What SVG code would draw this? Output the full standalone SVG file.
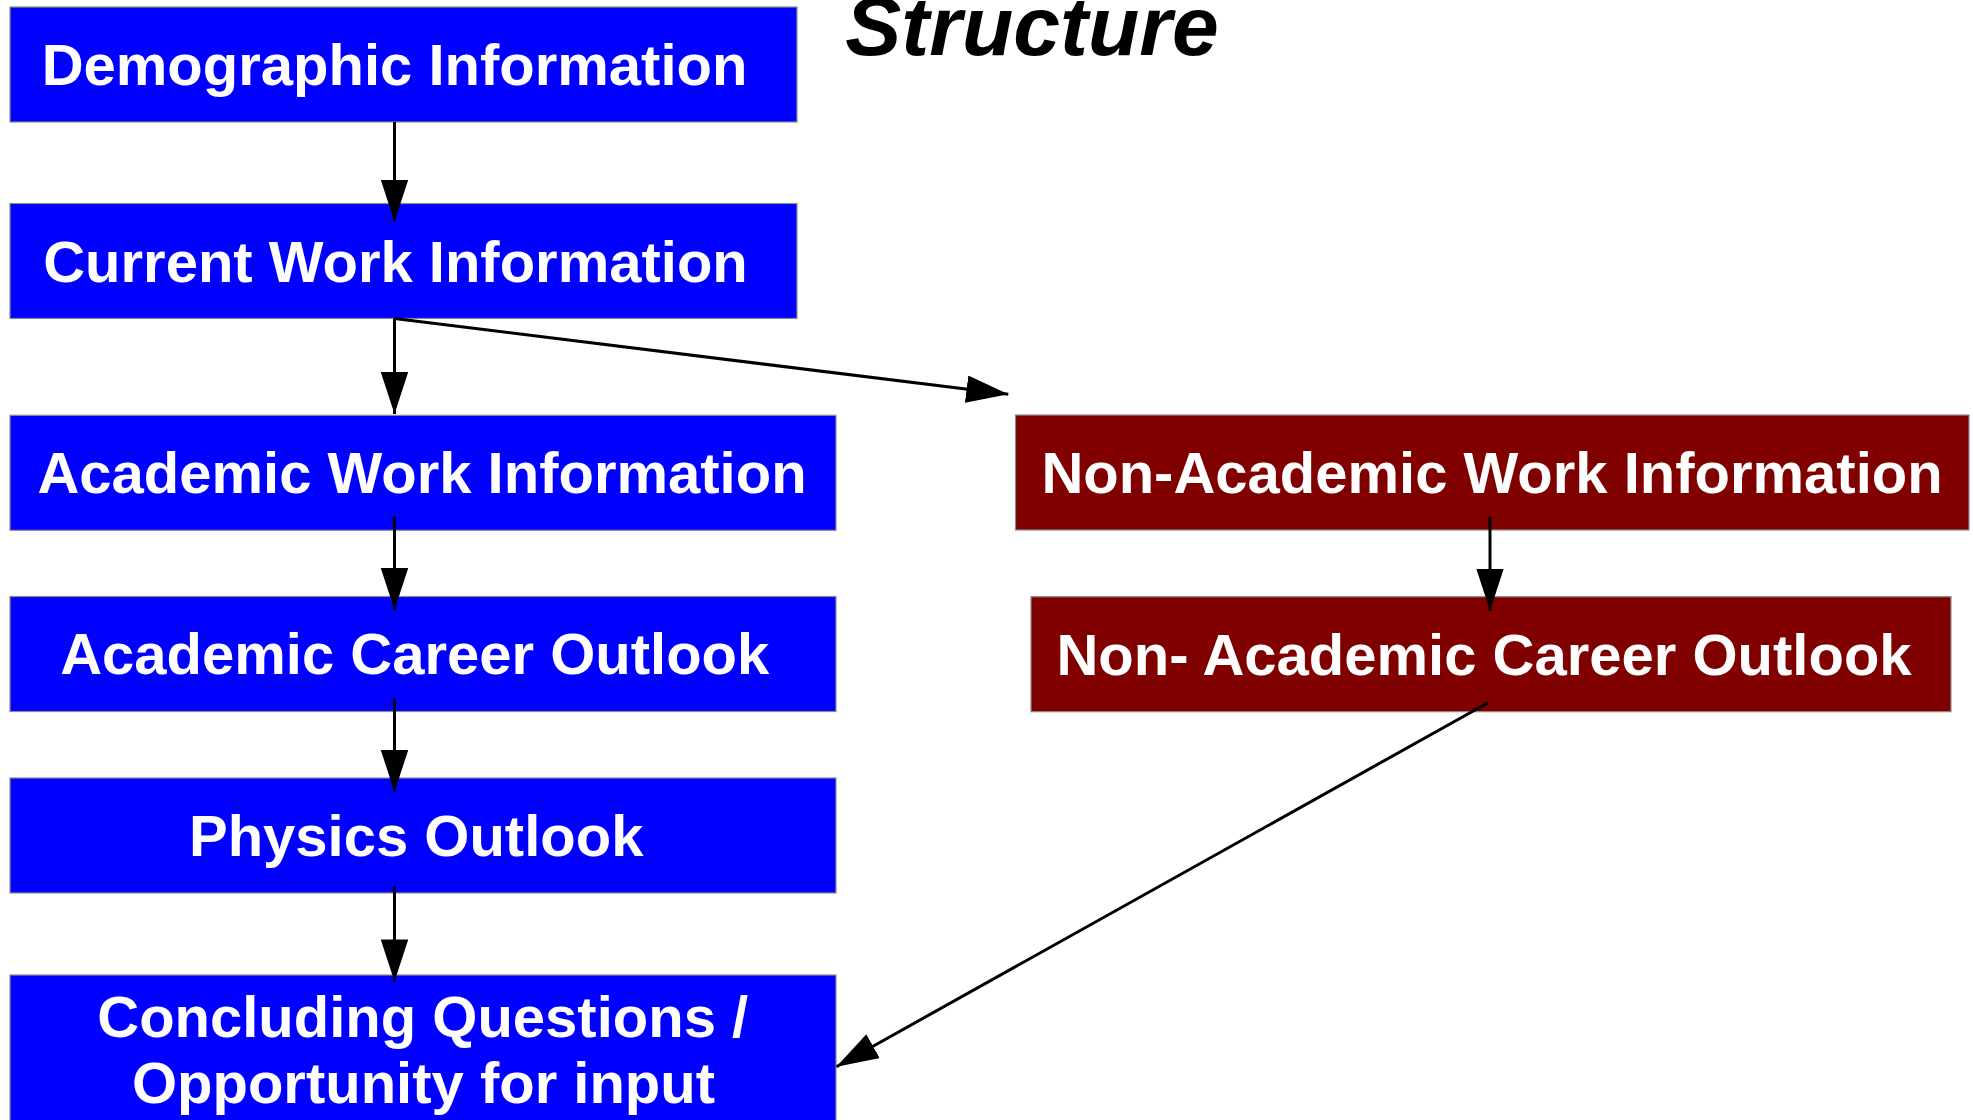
<svg xmlns="http://www.w3.org/2000/svg" width="1973" height="1120" viewBox="0 0 1973 1120">
<style>
.box{stroke:#8c8c8c;stroke-width:1.2}
.blue{fill:#0000ff}
.red{fill:#800000}
.lbl{font-family:"Liberation Sans",Arial,sans-serif;font-weight:bold;font-size:58px;fill:#ffffff;text-anchor:middle}
.title{font-family:"Liberation Sans",Arial,sans-serif;font-weight:bold;font-style:italic;font-size:84px;fill:#000000;text-anchor:middle}
.edge{stroke:#000000;stroke-width:3;fill:none;marker-end:url(#arr)}
</style>
<defs>
<marker id="arr" markerUnits="userSpaceOnUse" markerWidth="44" markerHeight="30" refX="42" refY="13.75" orient="auto" viewBox="0 0 44 30">
<path d="M0,0 L42,13.75 L0,27.5 z" fill="#000000"/>
</marker>
</defs>
<rect width="1973" height="1120" fill="#ffffff"/>
<text id="title" class="title" x="1032" y="55">Structure</text>
<g id="demographic"><rect class="box blue" x="10" y="7" width="787" height="115"/><text class="lbl" x="394.5" y="85">Demographic Information</text></g>
<g id="current-work"><rect class="box blue" x="10" y="203.5" width="787" height="115"/><text class="lbl" x="395.5" y="281.7">Current Work Information</text></g>
<g id="academic-work"><rect class="box blue" x="10" y="415.3" width="826" height="115"/><text class="lbl" x="422" y="493">Academic Work Information</text></g>
<g id="academic-career"><rect class="box blue" x="10" y="596.5" width="826" height="115"/><text class="lbl" x="414.7" y="674">Academic Career Outlook</text></g>
<g id="physics"><rect class="box blue" x="10" y="778" width="826" height="115"/><text class="lbl" x="416.2" y="855.7">Physics Outlook</text></g>
<g id="concluding"><rect class="box blue" x="10" y="975" width="826" height="160"/><text class="lbl" x="422.7" y="1036.8">Concluding Questions /</text><text class="lbl" x="423.5" y="1103">Opportunity for input</text></g>
<g id="non-academic-work"><rect class="box red" x="1015.5" y="415" width="953.5" height="115"/><text class="lbl" x="1492" y="493">Non-Academic Work Information</text></g>
<g id="non-academic-career"><rect class="box red" x="1031" y="596.7" width="920" height="115"/><text class="lbl" x="1484" y="675">Non- Academic Career Outlook</text></g>
<g id="connectors">
<path class="edge" d="M394.5,122 L394.5,221.7"/>
<path class="edge" d="M394.5,318.5 L394.5,414"/>
<path class="edge" d="M394.5,318.5 L1008.3,394.3"/>
<path class="edge" d="M394.5,516.7 L394.5,610"/>
<path class="edge" d="M394.5,698.6 L394.5,792"/>
<path class="edge" d="M394.5,886.8 L394.5,981.4"/>
<path class="edge" d="M1490,516.7 L1490,610.7"/>
<path class="edge" d="M1488,702.7 L836.4,1066.7"/>
</g>
</svg>
